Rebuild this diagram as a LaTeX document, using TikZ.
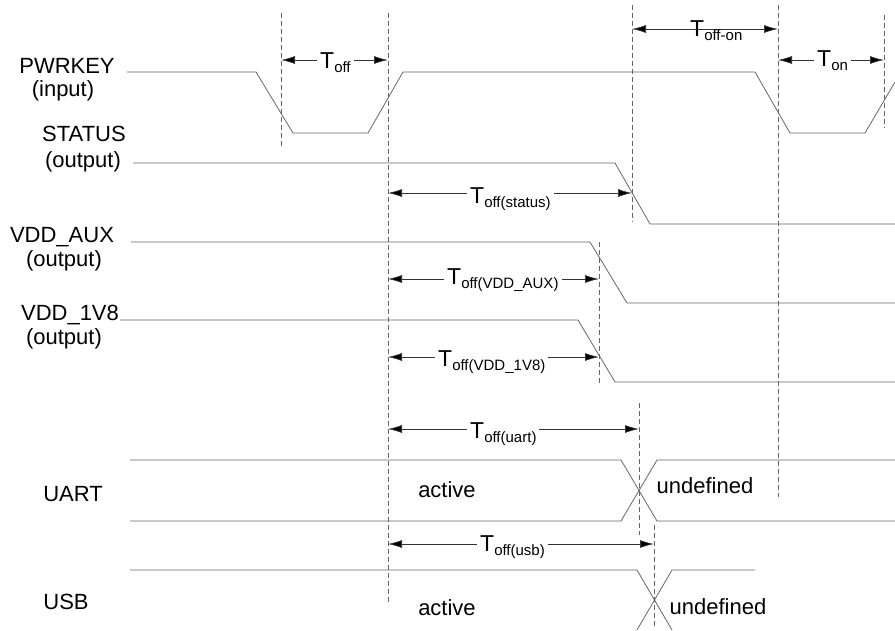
\documentclass[tikz,border=0pt]{standalone}
\usepackage{fontspec}
\setmainfont{Liberation Sans}
\usepackage{tikz}
\usetikzlibrary{arrows.meta}
\newcommand{\tsub}[1]{T\raisebox{-0.35ex}{\fontsize{15}{15}\selectfont #1}}

\begin{document}
\begin{tikzpicture}[x=1pt,y=-1pt,
    sig/.style={draw=black!60, line width=0.8pt},
    guide/.style={draw=black!60, line width=0.8pt, dash pattern=on 5pt off 3pt},
    dim/.style={draw=black!80, line width=0.7pt, {Latex[length=14pt,width=8pt,fill=black]}-{Latex[length=14pt,width=8pt,fill=black]}},
    lbl/.style={font=\fontsize{22}{22}\selectfont, inner sep=0pt},
    dimlbl/.style={font=\fontsize{23}{23}\selectfont, fill=white, inner sep=3pt, anchor=base west}]
    \useasboundingbox (0,0) rectangle (895,630);
    % signal names
    \node[lbl] (pwr) at (67,66) {PWRKEY};
    \node[lbl] (pwrio) at (63,91) {(input)};
    \node[lbl] (stat) at (84,134) {STATUS};
    \node[lbl] (statio) at (83,162) {(output)};
    \node[lbl] (aux) at (62,237) {VDD\_AUX};
    \node[lbl] (auxio) at (64,261) {(output)};
    \node[lbl] (v18) at (70,315) {VDD\_1V8};
    \node[lbl] (v18io) at (64,339) {(output)};
    \node[lbl] (uart) at (73,494) {UART};
    \node[lbl] (usb) at (66,602) {USB};
    % waveforms
    \draw[sig] (127,72) -- (256,72) -- (293,133) -- (368,133) -- (403,72)
        -- (755,72) -- (790,133) -- (865,133) -- (895,82);
    \draw[sig] (133,163) -- (615,163) -- (650,224) -- (895,224);
    \draw[sig] (131,242) -- (590,242) -- (627,303) -- (895,303);
    \draw[sig] (120,320) -- (578,320) -- (615,382) -- (895,382);
    \draw[sig] (130,460) -- (621,460) -- (657,521) -- (895,521);
    \draw[sig] (130,521) -- (621,521) -- (657,460) -- (895,460);
    \draw[sig] (130,570) -- (637,570) -- (672,630);
    \draw[sig] (637,630) -- (672,570) -- (755,570);
    % guides
    \draw[guide] (281,13) -- (281,146);
    \draw[guide] (388,13) -- (388,603);
    \draw[guide] (632,5) -- (632,222);
    \draw[guide] (778,5) -- (778,497);
    \draw[guide] (884,15) -- (884,128);
    \draw[guide] (599,242) -- (599,385);
    \draw[guide] (639,403) -- (639,535);
    \draw[guide] (654,525) -- (654,628);
    % timings
    \draw[dim] (281,60) -- (388,60);
    \draw[dim] (632,29) -- (778,29);
    \draw[dim] (778,60) -- (884,60);
    \draw[dim] (388,193) -- (632,193);
    \draw[dim] (388,279) -- (599,279);
    \draw[dim] (388,357) -- (599,357);
    \draw[dim] (388,429) -- (639,429);
    \draw[dim] (388,544) -- (654,544);
    \node[dimlbl] (toff) at (317,68) {\tsub{off}};
    \node[dimlbl, fill=none] (toffon) at (687,36) {\tsub{off-on}};
    \node[dimlbl] (ton) at (814,66) {\tsub{on}};
    \node[dimlbl] (tstat) at (467,203) {\tsub{off(status)}};
    \node[dimlbl] (taux) at (444,284) {\tsub{off(VDD\_AUX)}};
    \node[dimlbl] (tv18) at (435,366) {\tsub{off(VDD\_1V8)}};
    \node[dimlbl] (tuart) at (467,438) {\tsub{off(uart)}};
    \node[dimlbl] (tusb) at (477,551) {\tsub{off(usb)}};
    % states
    \node[lbl] (uartact) at (447,490) {active};
    \node[lbl] (uartund) at (705,486) {undefined};
    \node[lbl] (usbact) at (447,608) {active};
    \node[lbl] (usbund) at (718,607) {undefined};
\end{tikzpicture}
\end{document}
